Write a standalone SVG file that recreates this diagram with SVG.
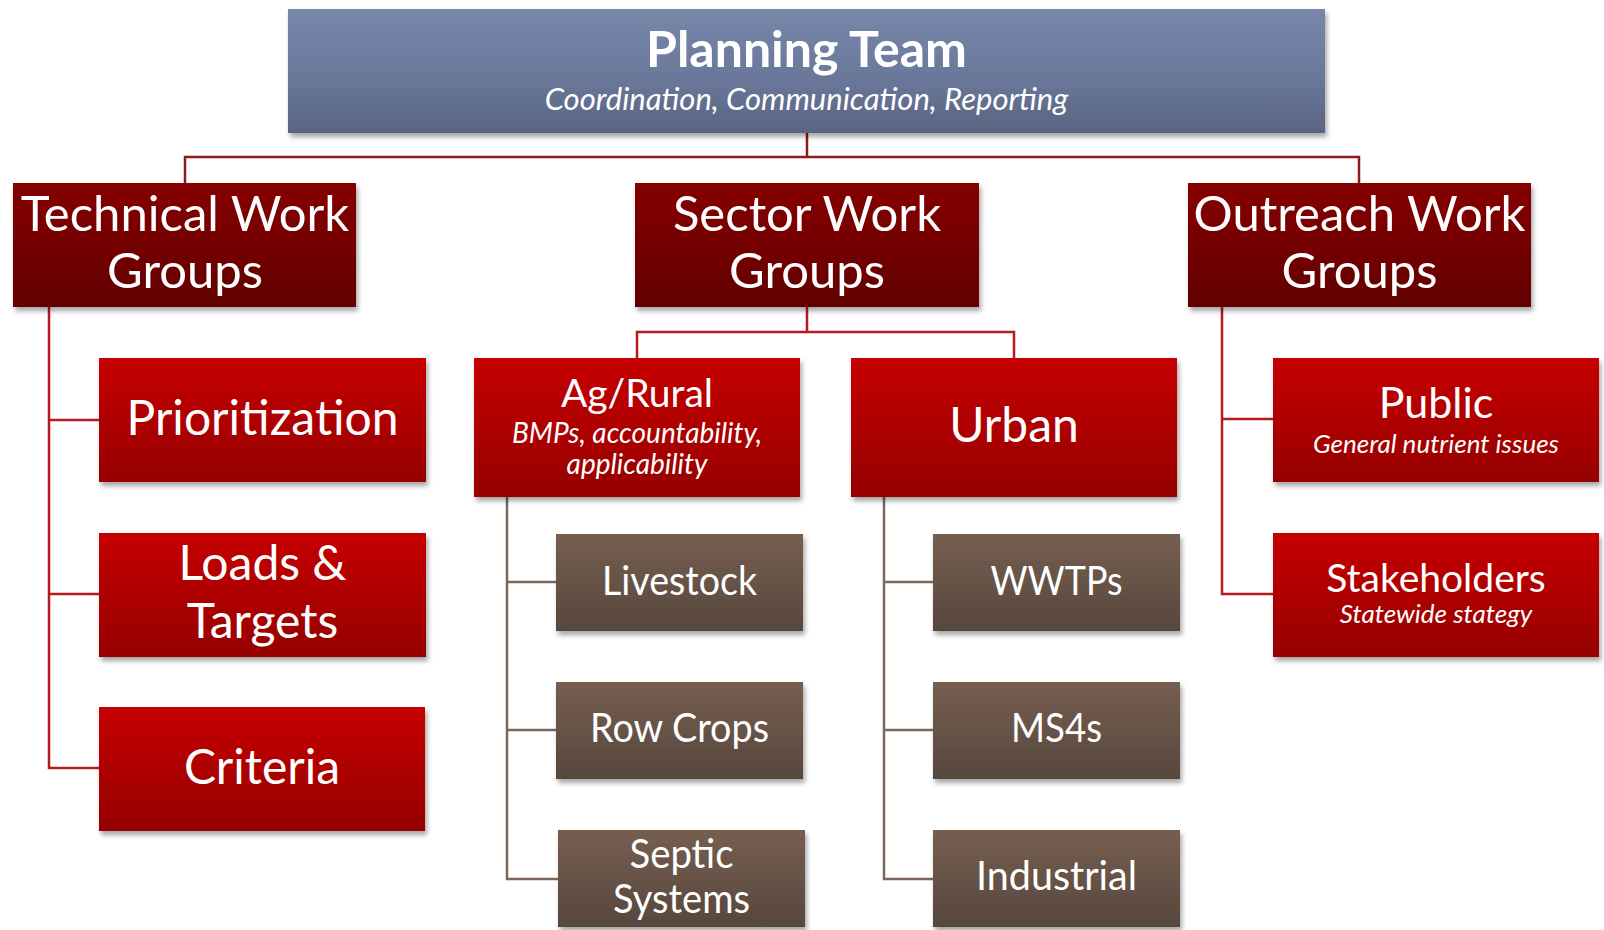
<svg xmlns="http://www.w3.org/2000/svg" width="1604" height="930" viewBox="0 0 1604 930">
<defs>
<linearGradient id="gBlue" x1="0" y1="0" x2="0" y2="1"><stop offset="0" stop-color="#7787AA"/><stop offset="0.5" stop-color="#6B7A9C"/><stop offset="1" stop-color="#5A6483"/></linearGradient>
<linearGradient id="gDark" x1="0" y1="0" x2="0" y2="1"><stop offset="0" stop-color="#860000"/><stop offset="1" stop-color="#620000"/></linearGradient>
<linearGradient id="gRed" x1="0" y1="0" x2="0" y2="1"><stop offset="0" stop-color="#C60000"/><stop offset="1" stop-color="#960000"/></linearGradient>
<linearGradient id="gBrown" x1="0" y1="0" x2="0" y2="1"><stop offset="0" stop-color="#765E50"/><stop offset="1" stop-color="#57473D"/></linearGradient>
<filter id="sh" x="-5%" y="-10%" width="115%" height="130%"><feDropShadow dx="2" dy="4" stdDeviation="2.5" flood-color="#000" flood-opacity="0.35"/></filter>
</defs>
<style>
.b{fill:url(#gBlue);filter:url(#sh)}
.d{fill:url(#gDark);filter:url(#sh)}
.r{fill:url(#gRed);filter:url(#sh)}
.g{fill:url(#gBrown);filter:url(#sh)}
text{font-family:Lato,"Liberation Sans",sans-serif;fill:#fff;text-anchor:middle}
.t1{font-size:49px}
.t2{font-size:48px}
.tg{font-size:40px}
.it{font-style:italic}
.c1{fill:none;stroke:#8B1A1A;stroke-width:2.5}
.c2{fill:none;stroke:#B8181E;stroke-width:2.5}
.c3{fill:none;stroke:#7B675B;stroke-width:2.5}
</style>
<g id="connectors">
<path class="c1" d="M807 133V157M185 183V157H1359V183"/>
<path class="c2" d="M49 307V768H99M49 420H99M49 594H99"/>
<path class="c2" d="M807 307V332M637 358V332H1014V358"/>
<path class="c2" d="M1222 307V594H1273M1222 419H1273"/>
<path class="c3" d="M507 497V879H558M507 582H556M507 730H556"/>
<path class="c3" d="M884 497V879H933M884 582H933M884 730H933"/>
</g>
<g id="planning-team"><rect class="b" x="288" y="9" width="1037" height="124"/>
<text x="806.5" y="67" style="font-size:50px;font-weight:bold">Planning Team</text>
<text class="it" x="806.5" y="110" style="font-size:31px">Coordination, Communication, Reporting</text></g>
<g id="technical"><rect class="d" x="13" y="183" width="343" height="124"/>
<text class="t1" x="185" y="231">Technical Work</text><text class="t1" x="185" y="288">Groups</text></g>
<g id="sector"><rect class="d" x="635" y="183" width="344" height="124"/>
<text class="t1" x="807" y="231">Sector Work</text><text class="t1" x="807" y="288">Groups</text></g>
<g id="outreach"><rect class="d" x="1188" y="183" width="343" height="124"/>
<text class="t1" x="1359.5" y="231">Outreach Work</text><text class="t1" x="1359.5" y="288">Groups</text></g>
<g id="prioritization"><rect class="r" x="99" y="358" width="327" height="124"/>
<text class="t2" x="262.5" y="435">Prioritization</text></g>
<g id="loads-targets"><rect class="r" x="99" y="533" width="327" height="124"/>
<text class="t2" x="262.5" y="580">Loads &amp;</text><text class="t2" x="262.5" y="638">Targets</text></g>
<g id="criteria"><rect class="r" x="99" y="707" width="326" height="124"/>
<text class="t2" x="262" y="784">Criteria</text></g>
<g id="ag-rural"><rect class="r" x="474" y="358" width="326" height="139"/>
<text x="637" y="407" style="font-size:39px">Ag/Rural</text>
<text class="it" x="637" y="443" style="font-size:28px">BMPs, accountability,</text>
<text class="it" x="637" y="474" style="font-size:28px">applicability</text></g>
<g id="urban"><rect class="r" x="851" y="358" width="326" height="139"/>
<text class="t2" x="1014" y="442">Urban</text></g>
<g id="public"><rect class="r" x="1273" y="358" width="326" height="124"/>
<text x="1436" y="418" style="font-size:43px">Public</text>
<text class="it" x="1436" y="453" style="font-size:26px">General nutrient issues</text></g>
<g id="stakeholders"><rect class="r" x="1273" y="533" width="326" height="124"/>
<text x="1436" y="592" style="font-size:39px">Stakeholders</text>
<text class="it" x="1436" y="623" style="font-size:26px">Statewide stategy</text></g>
<g id="livestock"><rect class="g" x="556" y="534" width="247" height="97"/>
<text class="tg" x="679.5" y="595" textLength="155" lengthAdjust="spacingAndGlyphs">Livestock</text></g>
<g id="row-crops"><rect class="g" x="556" y="682" width="247" height="97"/>
<text class="tg" x="679.5" y="742" textLength="179" lengthAdjust="spacingAndGlyphs">Row Crops</text></g>
<g id="septic-systems"><rect class="g" x="558" y="830" width="247" height="97"/>
<text class="tg" x="681.5" y="868" textLength="104" lengthAdjust="spacingAndGlyphs">Septic</text><text class="tg" x="681.5" y="913" textLength="137" lengthAdjust="spacingAndGlyphs">Systems</text></g>
<g id="wwtps"><rect class="g" x="933" y="534" width="247" height="97"/>
<text class="tg" x="1056.5" y="595" textLength="132" lengthAdjust="spacingAndGlyphs">WWTPs</text></g>
<g id="ms4s"><rect class="g" x="933" y="682" width="247" height="97"/>
<text class="tg" x="1056.5" y="742" textLength="91" lengthAdjust="spacingAndGlyphs">MS4s</text></g>
<g id="industrial"><rect class="g" x="933" y="830" width="247" height="97"/>
<text class="tg" x="1056.5" y="890" textLength="161" lengthAdjust="spacingAndGlyphs">Industrial</text></g>
</svg>
